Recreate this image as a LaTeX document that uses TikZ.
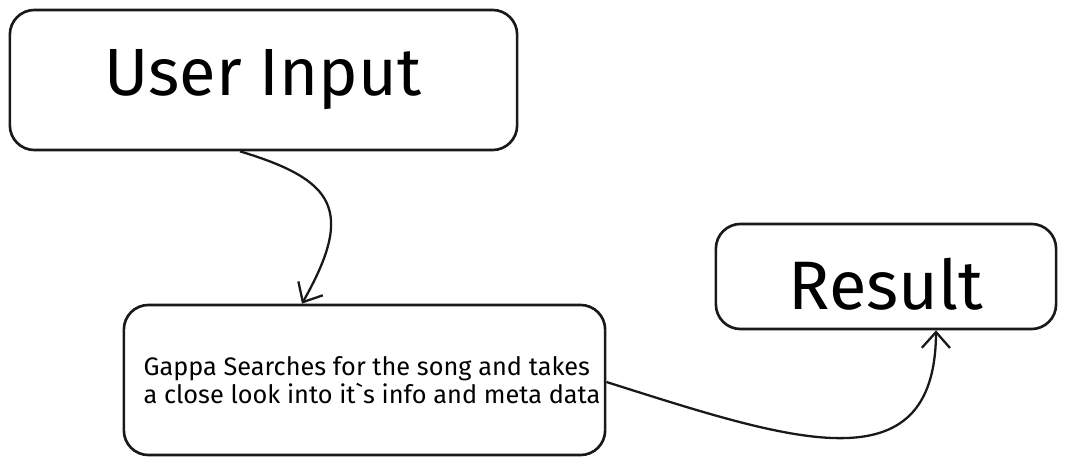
\documentclass[tikz,border=0pt]{standalone}
\usepackage{fontspec}
\setmainfont{Fira Sans}
\usetikzlibrary{arrows.meta}
\begin{document}
\begin{tikzpicture}[x=0.01cm,y=-0.01cm,
  box/.style={draw=black!90, line width=0.75pt, rounded corners=7pt, inner sep=0pt},
  conn/.style={draw=black!90, line width=0.65pt, -{Straight Barb[length=4.5pt,width=8pt,line width=0.65pt]}}]
\useasboundingbox (0,0) rectangle (1066,464);
\node[box, minimum width=5.07cm, minimum height=1.40cm] (user) at (263.5,80) {};
\node[font=\fontsize{19}{22}\selectfont] (usert) at (263,80) {User Input};
\node[box, minimum width=4.81cm, minimum height=1.50cm] (gappa) at (364.5,380) {};
\node[font=\fontsize{7.2}{8.0}\selectfont, align=left] (gappat) at (372,380) {Gappa Searches for the song and takes\\a close look into it\textasciigrave s info and meta data};
\node[box, minimum width=3.40cm, minimum height=1.05cm] (result) at (886,276.5) {};
\node[font=\fontsize{19.5}{22}\selectfont] (resultt) at (886,284) {Result};
\draw[conn] ([xshift=-0.235cm]user.south) .. controls (335,180) and (355,210) .. ([xshift=-0.625cm]gappa.north);
\draw[conn] (gappa.east |- 0,382) .. controls (790,440) and (935,490) .. ([xshift=0.5cm]result.south);
\end{tikzpicture}
\end{document}
